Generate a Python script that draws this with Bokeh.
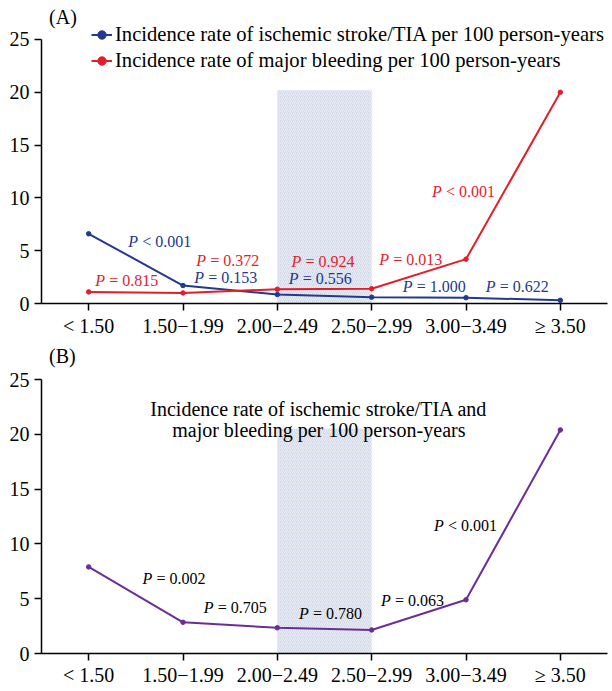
from bokeh.plotting import figure
from bokeh.models import ColumnDataSource, FixedTicker, Legend, LegendItem
from bokeh.layouts import column
from bokeh.embed import file_html
from bokeh.resources import INLINE
from bokeh.core.properties import value

# ---------------- data ----------------
categories = ["< 1.50", "1.50\u22121.99", "2.00\u22122.49", "2.50\u22122.99", "3.00\u22123.49", "\u2265 3.50"]
stroke_rate = [6.6, 1.7, 0.85, 0.6, 0.55, 0.3]
bleeding_rate = [1.1, 1.0, 1.35, 1.4, 4.2, 20.0]
combined_rate = [7.9, 2.85, 2.35, 2.15, 4.9, 20.4]
band_categories = ["2.00\u22122.49", "2.50\u22122.99"]
band_top_a = 20.2
band_top_b = 20.5
y_ticks = [0, 5, 10, 15, 20, 25]

stroke_p = ["< 0.001", "= 0.153", "= 0.556", "= 1.000", "= 0.622"]
bleeding_p = ["= 0.815", "= 0.372", "= 0.924", "= 0.013", "< 0.001"]
combined_p = ["= 0.002", "= 0.705", "= 0.780", "= 0.063", "< 0.001"]

legend_labels = ["Incidence rate of ischemic stroke/TIA per 100 person-years",
                 "Incidence rate of major bleeding per 100 person-years"]
title_b = ["Incidence rate of ischemic stroke/TIA and", "major bleeding per 100 person-years"]

# annotation placement (layout only)
stroke_p_x = [0.42, 1.12, 2.12, 3.33, 4.21]
stroke_p_y = [5.87, 2.49, 2.40, 1.61, 1.61]
bleeding_p_x = [0.07, 1.14, 2.15, 3.08, 3.64]
bleeding_p_y = [2.18, 4.07, 3.98, 4.14, 10.6]
combined_p_x = [0.57, 1.22, 2.23, 3.10, 3.66]
combined_p_y = [6.81, 4.23, 3.68, 4.84, 11.7]

BLUE = "#22398f"
RED = "#e31e2b"
PURPLE = "#6a2e96"
FONT = "Liberation Serif"

xs = list(range(len(categories)))


def make_panel(y_end, frame_h, top_border, bottom_border, label_standoff):
    p = figure(frame_width=566, frame_height=frame_h,
               x_range=(-0.5, len(categories) - 0.5), y_range=(0, y_end),
               output_backend="svg", toolbar_location=None,
               min_border_left=41, min_border_right=5, min_border_top=top_border,
               min_border_bottom=bottom_border)
    p.outline_line_color = None
    p.xgrid.visible = False
    p.ygrid.visible = False
    p.xaxis.ticker = FixedTicker(ticks=xs)
    p.xaxis.major_label_overrides = {i: c for i, c in enumerate(categories)}
    p.yaxis.ticker = FixedTicker(ticks=y_ticks)
    p.yaxis.bounds = (y_ticks[0], y_ticks[-1])
    for ax in p.axis:
        ax.axis_line_width = 1.5
        ax.axis_line_color = "black"
        ax.major_tick_line_width = 1.5
        ax.major_tick_line_color = "black"
        ax.major_tick_out = 7
        ax.major_tick_in = 0
        ax.minor_tick_out = 0
        ax.minor_tick_in = 0
        ax.major_label_text_font = FONT
        ax.major_label_text_color = "black"
        ax.major_label_text_font_size = "20px"
    p.yaxis.major_label_standoff = 5
    p.xaxis.major_label_standoff = label_standoff
    return p


def band(p, top):
    left = categories.index(band_categories[0])
    right = categories.index(band_categories[1])
    p.quad(left=[left], right=[right], bottom=[0], top=[top],
           fill_color="#d1d8e7", line_color=None,
           hatch_pattern="/", hatch_color="white", hatch_alpha=0.6,
           hatch_scale=4, hatch_weight=1)


def p_labels(p, xs_, ys_, texts, color):
    src = ColumnDataSource(dict(x=xs_, y=ys_, p=["P"] * len(texts), rest=texts))
    p.text(x="x", y="y", text="p", source=src, text_font=value(FONT), text_font_style="italic",
           text_font_size="16px", text_color=color, text_baseline="middle", text_align="left")
    p.text(x="x", y="y", text="rest", source=src, text_font=value(FONT),
           text_font_size="16px", text_color=color, text_baseline="middle", text_align="left",
           x_offset=14)


# ---------------- panel A ----------------
pa = make_panel(28.50, 301, 2, 38, 4)
band(pa, band_top_a)
l1 = pa.line(xs, stroke_rate, line_color=BLUE, line_width=2)
s1 = pa.scatter(xs, stroke_rate, size=4.5, color=BLUE)
l2 = pa.line(xs, bleeding_rate, line_color=RED, line_width=2)
s2 = pa.scatter(xs, bleeding_rate, size=4.5, color=RED)
p_labels(pa, stroke_p_x, stroke_p_y, stroke_p, BLUE)
p_labels(pa, bleeding_p_x, bleeding_p_y, bleeding_p, RED)
pa.text(x=[-0.42], y=[27.08], text=["(A)"], text_font=value(FONT), text_font_size="20px",
        text_color="black", text_baseline="middle", text_align="left")
legend = Legend(items=[LegendItem(label=legend_labels[0], renderers=[l1, s1]),
                       LegendItem(label=legend_labels[1], renderers=[l2, s2])],
                location=(50, 231), orientation="vertical", glyph_width=21, glyph_height=21,
                label_height=21, label_standoff=3, spacing=3, padding=0, margin=0,
                border_line_color=None, background_fill_alpha=0,
                label_text_font=FONT, label_text_font_size="20.6px", label_text_color="black")
pa.add_layout(legend)

# ---------------- panel B ----------------
pb = make_panel(28.47, 312, 0, 37, 3)
band(pb, band_top_b)
pb.line(xs, combined_rate, line_color=PURPLE, line_width=2)
pb.scatter(xs, combined_rate, size=4.5, color=PURPLE)
p_labels(pb, combined_p_x, combined_p_y, combined_p, "black")
pb.text(x=[-0.42], y=[27.19], text=["(B)"], text_font=value(FONT), text_font_size="20px",
        text_color="black", text_baseline="middle", text_align="left")
pb.text(x=[2.44, 2.44], y=[22.35, 20.35], text=title_b, text_font=value(FONT), text_font_size="20px",
        text_color="black", text_baseline="middle", text_align="center")

layout = column(pa, pb)
open("out.html", "w").write(file_html(layout, INLINE))
